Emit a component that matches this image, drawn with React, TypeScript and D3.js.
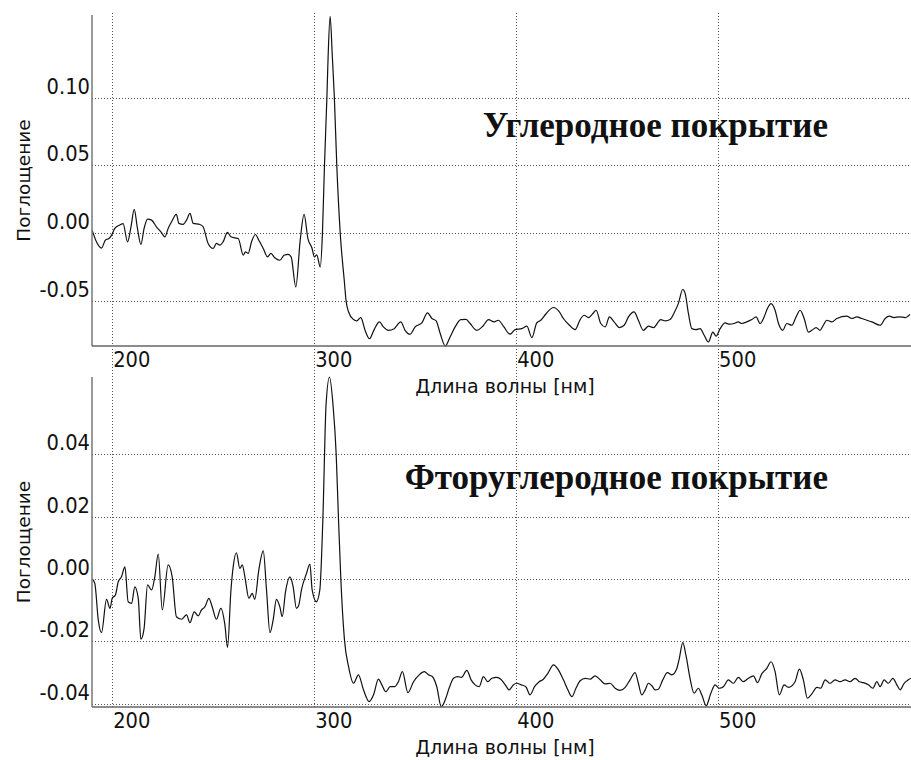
import * as d3 from "d3";
import React, { useEffect, useRef } from "react";

// [wavelength nm, absorbance]
const carbonSpectrum = [
  [190.1, 0.002], [192.2, -0.0064], [194.7, -0.011], [196.7, -0.005], [198.4, -0.004],
  [199.7, -0.0015], [201.3, 0.0035], [203.8, 0.006], [205.4, 0.007], [207.6, -0.0064],
  [209.3, 0.0047], [210.9, 0.0175], [212.5, 0.0035], [214.2, -0.0084], [215.8, 0.0035],
  [217.5, 0.0104], [219.5, 0.0096], [221.9, 0.0047], [224.1, 0.001], [226.1, -0.0027],
  [227.7, 0.0035], [229.4, 0.0084], [231.8, 0.0138], [233.0, 0.0072], [235.1, 0.0064],
  [236.8, 0.0096], [238.5, 0.0146], [240.1, 0.0072], [243.4, 0.0064], [245.0, 0.0047],
  [247.5, -0.0076], [250.0, -0.0113], [251.6, -0.0076], [253.3, -0.0089], [254.9, -0.0064],
  [257.1, 0.0005], [258.8, -0.0027], [260.7, -0.0035], [262.4, -0.004], [264.9, -0.0163],
  [266.0, -0.0138], [267.3, -0.015], [269.0, -0.0064], [270.9, -0.001], [272.6, -0.0052],
  [274.8, -0.0113], [276.9, -0.0175], [278.6, -0.015], [280.5, -0.0182], [283.0, -0.02],
  [285.1, -0.0163], [287.1, -0.0157], [288.6, -0.0175], [290.9, -0.0397], [293.1, -0.005],
  [295.0, 0.0138], [296.9, -0.004], [298.9, -0.011], [300.1, -0.0175], [301.3, -0.016],
  [303.0, -0.025], [304.1, 0.0], [305.1, 0.05], [306.3, 0.1], [306.9, 0.13],
  [307.9, 0.16], [309.0, 0.13], [310.0, 0.1], [311.2, 0.05], [312.9, 0.0],
  [314.9, -0.035], [315.8, -0.05], [317.0, -0.058], [319.5, -0.0638], [321.1, -0.0648],
  [323.1, -0.0623], [325.2, -0.0717], [327.4, -0.0779], [329.7, -0.0712], [332.3, -0.0655],
  [334.3, -0.0692], [336.8, -0.0717], [339.6, -0.0705], [342.9, -0.0655], [345.0, -0.0717],
  [347.5, -0.0746], [350.0, -0.0692], [353.3, -0.0663], [356.1, -0.0589], [358.3, -0.063],
  [360.4, -0.0648], [362.4, -0.0741], [364.9, -0.0833], [367.3, -0.0766], [369.8, -0.0692],
  [372.6, -0.0638], [375.2, -0.0636], [377.2, -0.0667], [380.5, -0.0717], [383.5, -0.0687],
  [386.3, -0.0638], [389.1, -0.0655], [391.2, -0.0643], [393.7, -0.0687], [397.0, -0.0746],
  [399.5, -0.0712], [402.8, -0.0705], [405.3, -0.0687], [407.8, -0.0771], [410.2, -0.0663],
  [412.2, -0.0643], [414.9, -0.0593], [418.5, -0.0549], [421.4, -0.0581], [423.4, -0.063],
  [426.4, -0.068], [429.2, -0.0712], [431.7, -0.0638], [433.7, -0.0606], [435.8, -0.0623],
  [438.0, -0.0593], [439.6, -0.0569], [441.9, -0.0667], [444.1, -0.0692], [446.2, -0.0618],
  [448.5, -0.0655], [451.1, -0.0697], [453.5, -0.068], [455.6, -0.0618], [458.4, -0.0581],
  [460.5, -0.0643], [463.0, -0.0717], [465.5, -0.0687], [468.0, -0.0697], [471.6, -0.0638],
  [473.8, -0.0648], [476.2, -0.0638], [478.2, -0.0589], [480.3, -0.052], [482.5, -0.0416],
  [483.7, -0.0446], [485.3, -0.0593], [487.0, -0.0705], [489.1, -0.0712], [491.1, -0.0705],
  [493.1, -0.0754], [495.2, -0.0803], [497.4, -0.073], [499.0, -0.0761], [501.0, -0.0705],
  [503.5, -0.0663], [505.6, -0.0672], [507.9, -0.0667], [510.0, -0.0655], [511.7, -0.0667],
  [514.2, -0.0655], [516.7, -0.0638], [518.8, -0.0618], [520.8, -0.0667], [522.8, -0.0618],
  [524.4, -0.0556], [526.2, -0.052], [528.2, -0.0569], [529.9, -0.0667], [532.0, -0.0717],
  [534.0, -0.0667], [536.5, -0.068], [538.6, -0.0618], [540.6, -0.0569], [542.6, -0.063],
  [544.7, -0.073], [546.4, -0.0717], [548.5, -0.0697], [550.5, -0.0717], [552.1, -0.068],
  [553.8, -0.0643], [556.3, -0.0655], [558.8, -0.063], [563.7, -0.0613], [566.2, -0.063],
  [568.7, -0.0618], [571.1, -0.063], [573.6, -0.0643], [576.1, -0.0655], [580.2, -0.068],
  [582.7, -0.063], [584.8, -0.0613], [587.1, -0.0623], [589.8, -0.0618], [592.6, -0.0623],
  [595.0, -0.0599],
];

const fluoroSpectrum = [
  [190.1, 0.0], [191.4, -0.0014], [193.1, -0.0131], [194.7, -0.0172], [197.2, -0.0065],
  [198.9, -0.0094], [200.0, -0.0062], [201.6, -0.0051], [203.0, -0.0009], [204.6, 0.0007],
  [206.3, 0.0039], [207.9, -0.0073], [209.6, -0.0078], [211.2, -0.0025], [212.9, -0.0062],
  [214.2, -0.0193], [215.8, -0.0158], [217.5, -0.0019], [219.5, -0.0035], [221.1, 0.0007],
  [222.8, 0.008], [224.8, -0.0099], [227.7, 0.0045], [229.7, 0.0007], [231.8, -0.0121],
  [234.3, -0.0129], [236.8, -0.0115], [238.5, -0.014], [240.6, -0.0105], [242.6, -0.0118],
  [244.2, -0.0099], [245.9, -0.0089], [247.9, -0.0062], [249.5, -0.0089], [251.6, -0.0129],
  [253.8, -0.0094], [255.8, -0.0147], [257.1, -0.0219], [258.8, -0.0035], [259.9, 0.0039],
  [261.5, 0.0084], [263.2, 0.0034], [264.4, 0.0045], [265.7, 0.0007], [267.7, -0.0062],
  [269.3, -0.0046], [270.6, -0.0065], [272.6, 0.0029], [274.8, 0.009], [276.4, -0.0035],
  [278.1, -0.0172], [279.7, -0.0131], [281.3, -0.0065], [283.0, -0.0089], [284.2, -0.0121],
  [285.8, -0.0041], [288.0, 0.0007], [289.6, -0.0025], [291.2, -0.0094], [292.4, -0.0083],
  [293.7, -0.0035], [296.2, 0.0018], [297.9, 0.0048], [299.0, -0.0035], [301.1, -0.0073],
  [302.8, -0.0035], [304.3, 0.019], [305.9, 0.056], [307.6, 0.0647], [309.3, 0.056],
  [310.9, 0.04], [312.0, 0.02], [313.2, 0.0], [315.0, -0.0195], [317.0, -0.028],
  [319.5, -0.0334], [321.9, -0.0307], [324.4, -0.0355], [327.2, -0.0393], [329.4, -0.0371],
  [331.8, -0.0321], [333.5, -0.0339], [335.5, -0.0361], [337.6, -0.0345], [339.8, -0.0345],
  [341.7, -0.0329], [343.7, -0.0297], [346.4, -0.0364], [349.2, -0.0329], [352.0, -0.0307],
  [354.6, -0.0297], [356.6, -0.0307], [358.6, -0.0313], [360.7, -0.0345], [362.9, -0.0409],
  [364.9, -0.0387], [366.8, -0.035], [369.0, -0.0318], [371.1, -0.0313], [372.9, -0.0315],
  [375.6, -0.0293], [377.7, -0.0323], [379.7, -0.0339], [381.7, -0.0345], [383.8, -0.0313],
  [386.0, -0.0329], [388.0, -0.0318], [390.4, -0.0315], [392.4, -0.0321], [394.6, -0.0339],
  [396.5, -0.0355], [398.7, -0.0339], [400.3, -0.0334], [402.5, -0.0339], [404.8, -0.0345],
  [406.9, -0.0371], [409.1, -0.0345], [411.4, -0.0329], [413.5, -0.0321], [415.7, -0.0302],
  [418.5, -0.0275], [420.9, -0.0291], [423.4, -0.0323], [425.6, -0.0355], [427.6, -0.0377],
  [429.6, -0.035], [431.7, -0.0326], [434.2, -0.0318], [436.6, -0.0321], [439.1, -0.031],
  [441.6, -0.0323], [444.1, -0.0336], [446.5, -0.0334], [449.0, -0.035], [451.5, -0.0357],
  [454.0, -0.0347], [456.4, -0.0323], [458.9, -0.03], [460.5, -0.0334], [462.2, -0.0371],
  [463.9, -0.0355], [465.5, -0.0334], [467.2, -0.0342], [468.8, -0.0355], [470.4, -0.0353],
  [472.6, -0.0323], [474.9, -0.03], [477.1, -0.0307], [479.6, -0.0286], [480.8, -0.0254],
  [482.5, -0.0204], [484.2, -0.0249], [486.1, -0.0318], [488.1, -0.0366], [490.2, -0.035],
  [491.9, -0.0371], [494.1, -0.0406], [496.4, -0.0366], [498.5, -0.0339], [500.6, -0.035],
  [502.6, -0.0345], [505.1, -0.0323], [507.6, -0.0334], [510.0, -0.0315], [512.5, -0.0329],
  [515.0, -0.0318], [517.5, -0.031], [519.5, -0.0332], [521.6, -0.0304], [524.1, -0.0286],
  [526.2, -0.0265], [528.2, -0.0297], [530.3, -0.0371], [532.7, -0.0339], [534.8, -0.0347],
  [538.1, -0.0329], [540.2, -0.0289], [542.2, -0.0323], [544.2, -0.0382], [546.4, -0.0368],
  [548.9, -0.0347], [550.8, -0.035], [553.0, -0.0323], [555.4, -0.0334], [557.9, -0.0323],
  [560.4, -0.0329], [562.9, -0.0323], [565.3, -0.0329], [567.8, -0.0318], [570.0, -0.0329],
  [571.9, -0.0332], [574.4, -0.0339], [576.6, -0.035], [578.6, -0.0329], [580.2, -0.0345],
  [582.2, -0.0323], [584.3, -0.0334], [586.5, -0.0318], [588.5, -0.0339], [590.1, -0.0355],
  [592.1, -0.0334], [594.2, -0.0323], [595.4, -0.0318],
];

const xTicks = [200, 300, 400, 500];
const carbonYTicks = [-0.05, 0, 0.05, 0.1];
const fluoroYTicks = [-0.04, -0.02, 0, 0.02, 0.04];

const carbonTitle = "Углеродное покрытие";
const fluoroTitle = "Фторуглеродное покрытие";
const xTitle = "Длина волны [нм]";
const yTitle = "Поглощение";

const Spectra = () => {
  const chartRef = useRef(null);

  useEffect(() => {
    if (chartRef.current) drawChart();
    return () => {
      d3.select(chartRef.current).selectAll("*").remove();
    };
  }, []);

  const drawChart = () => {
    const width = 911;
    const height = 760;
    const left = 92;
    const right = 911;
    const sans = "'DejaVu Sans', Verdana, sans-serif";

    const svg = d3
      .select(chartRef.current)
      .append("svg")
      .attr("width", width)
      .attr("height", height)
      .style("position", "absolute")
      .style("left", 0)
      .style("top", 0)
      .style("background", "#fff");

    const x = d3.scaleLinear().domain([190, 595.5]).range([left, right]);

    const drawPanel = (p) => {
      const y = d3.scaleLinear().domain(p.yDomain).range([p.bottom, p.top]);
      const g = svg.append("g");

      // dotted grid
      g.selectAll(".hgrid")
        .data(p.yTicks)
        .enter()
        .append("line")
        .attr("x1", left)
        .attr("x2", right)
        .attr("y1", (d) => Math.round(y(d)) + 0.5)
        .attr("y2", (d) => Math.round(y(d)) + 0.5)
        .attr("stroke", "#555")
        .attr("stroke-dasharray", "1,2");

      g.selectAll(".vgrid")
        .data(xTicks)
        .enter()
        .append("line")
        .attr("x1", (d) => Math.round(x(d)) + 0.5)
        .attr("x2", (d) => Math.round(x(d)) + 0.5)
        .attr("y1", p.gridTop)
        .attr("y2", p.bottom)
        .attr("stroke", "#555")
        .attr("stroke-dasharray", "1,2");

      // spectrum
      const line = d3
        .line()
        .x((d) => x(d[0]))
        .y((d) => y(d[1]))
        .curve(d3.curveMonotoneX);

      g.append("path")
        .datum(p.data)
        .attr("d", line)
        .attr("fill", "none")
        .attr("stroke", "#111")
        .attr("stroke-width", 1.2);

      // axes
      g.append("line")
        .attr("x1", left)
        .attr("x2", left)
        .attr("y1", p.top)
        .attr("y2", p.bottom)
        .attr("stroke", "#777")
        .attr("stroke-width", 1.5);
      g.append("line")
        .attr("x1", left)
        .attr("x2", right)
        .attr("y1", p.bottom)
        .attr("y2", p.bottom)
        .attr("stroke", "#666")
        .attr("stroke-width", 1.5);

      // tick labels (taller face in the original, so stretch a little)
      g.selectAll(".ylab")
        .data(p.yTicks)
        .enter()
        .append("text")
        .attr("transform", (d) => `translate(90,${y(d) - 4}) scale(1,1.12)`)
        .attr("text-anchor", "end")
        .attr("font-family", sans)
        .attr("font-size", 19.5)
        .attr("fill", "#111")
        .text((d) => d.toFixed(2));

      g.selectAll(".xlab")
        .data(xTicks)
        .enter()
        .append("text")
        .attr("transform", (d) => `translate(${x(d) + 1},${p.bottom + 21}) scale(1,1.08)`)
        .attr("font-family", sans)
        .attr("font-size", 19.5)
        .attr("fill", "#111")
        .text((d) => d);

      // axis titles
      g.append("text")
        .attr("x", 505)
        .attr("y", p.bottom + 47)
        .attr("text-anchor", "middle")
        .attr("font-family", sans)
        .attr("font-size", 19)
        .attr("fill", "#111")
        .text(xTitle);

      g.append("text")
        .attr("transform", `translate(30,${(p.top + p.bottom) / 2}) rotate(-90)`)
        .attr("text-anchor", "middle")
        .attr("font-family", sans)
        .attr("font-size", 18.5)
        .attr("fill", "#111")
        .text(yTitle);

      // panel caption
      g.append("text")
        .attr("x", 828)
        .attr("y", p.titleY)
        .attr("text-anchor", "end")
        .attr("font-family", "'Liberation Serif', 'Times New Roman', serif")
        .attr("font-weight", "bold")
        .attr("font-size", 35)
        .attr("fill", "#111")
        .text(p.title);
    };

    drawPanel({
      data: carbonSpectrum,
      yDomain: [-0.0833, 0.161],
      yTicks: carbonYTicks,
      top: 15,
      bottom: 346,
      gridTop: 13,
      title: carbonTitle,
      titleY: 137,
    });

    drawPanel({
      data: fluoroSpectrum,
      yDomain: [-0.041, 0.0647],
      yTicks: fluoroYTicks,
      top: 377,
      bottom: 707,
      gridTop: 349,
      title: fluoroTitle,
      titleY: 489,
    });
  };

  return <div ref={chartRef} />;
};

export default function App() {
  return <Spectra />;
}
